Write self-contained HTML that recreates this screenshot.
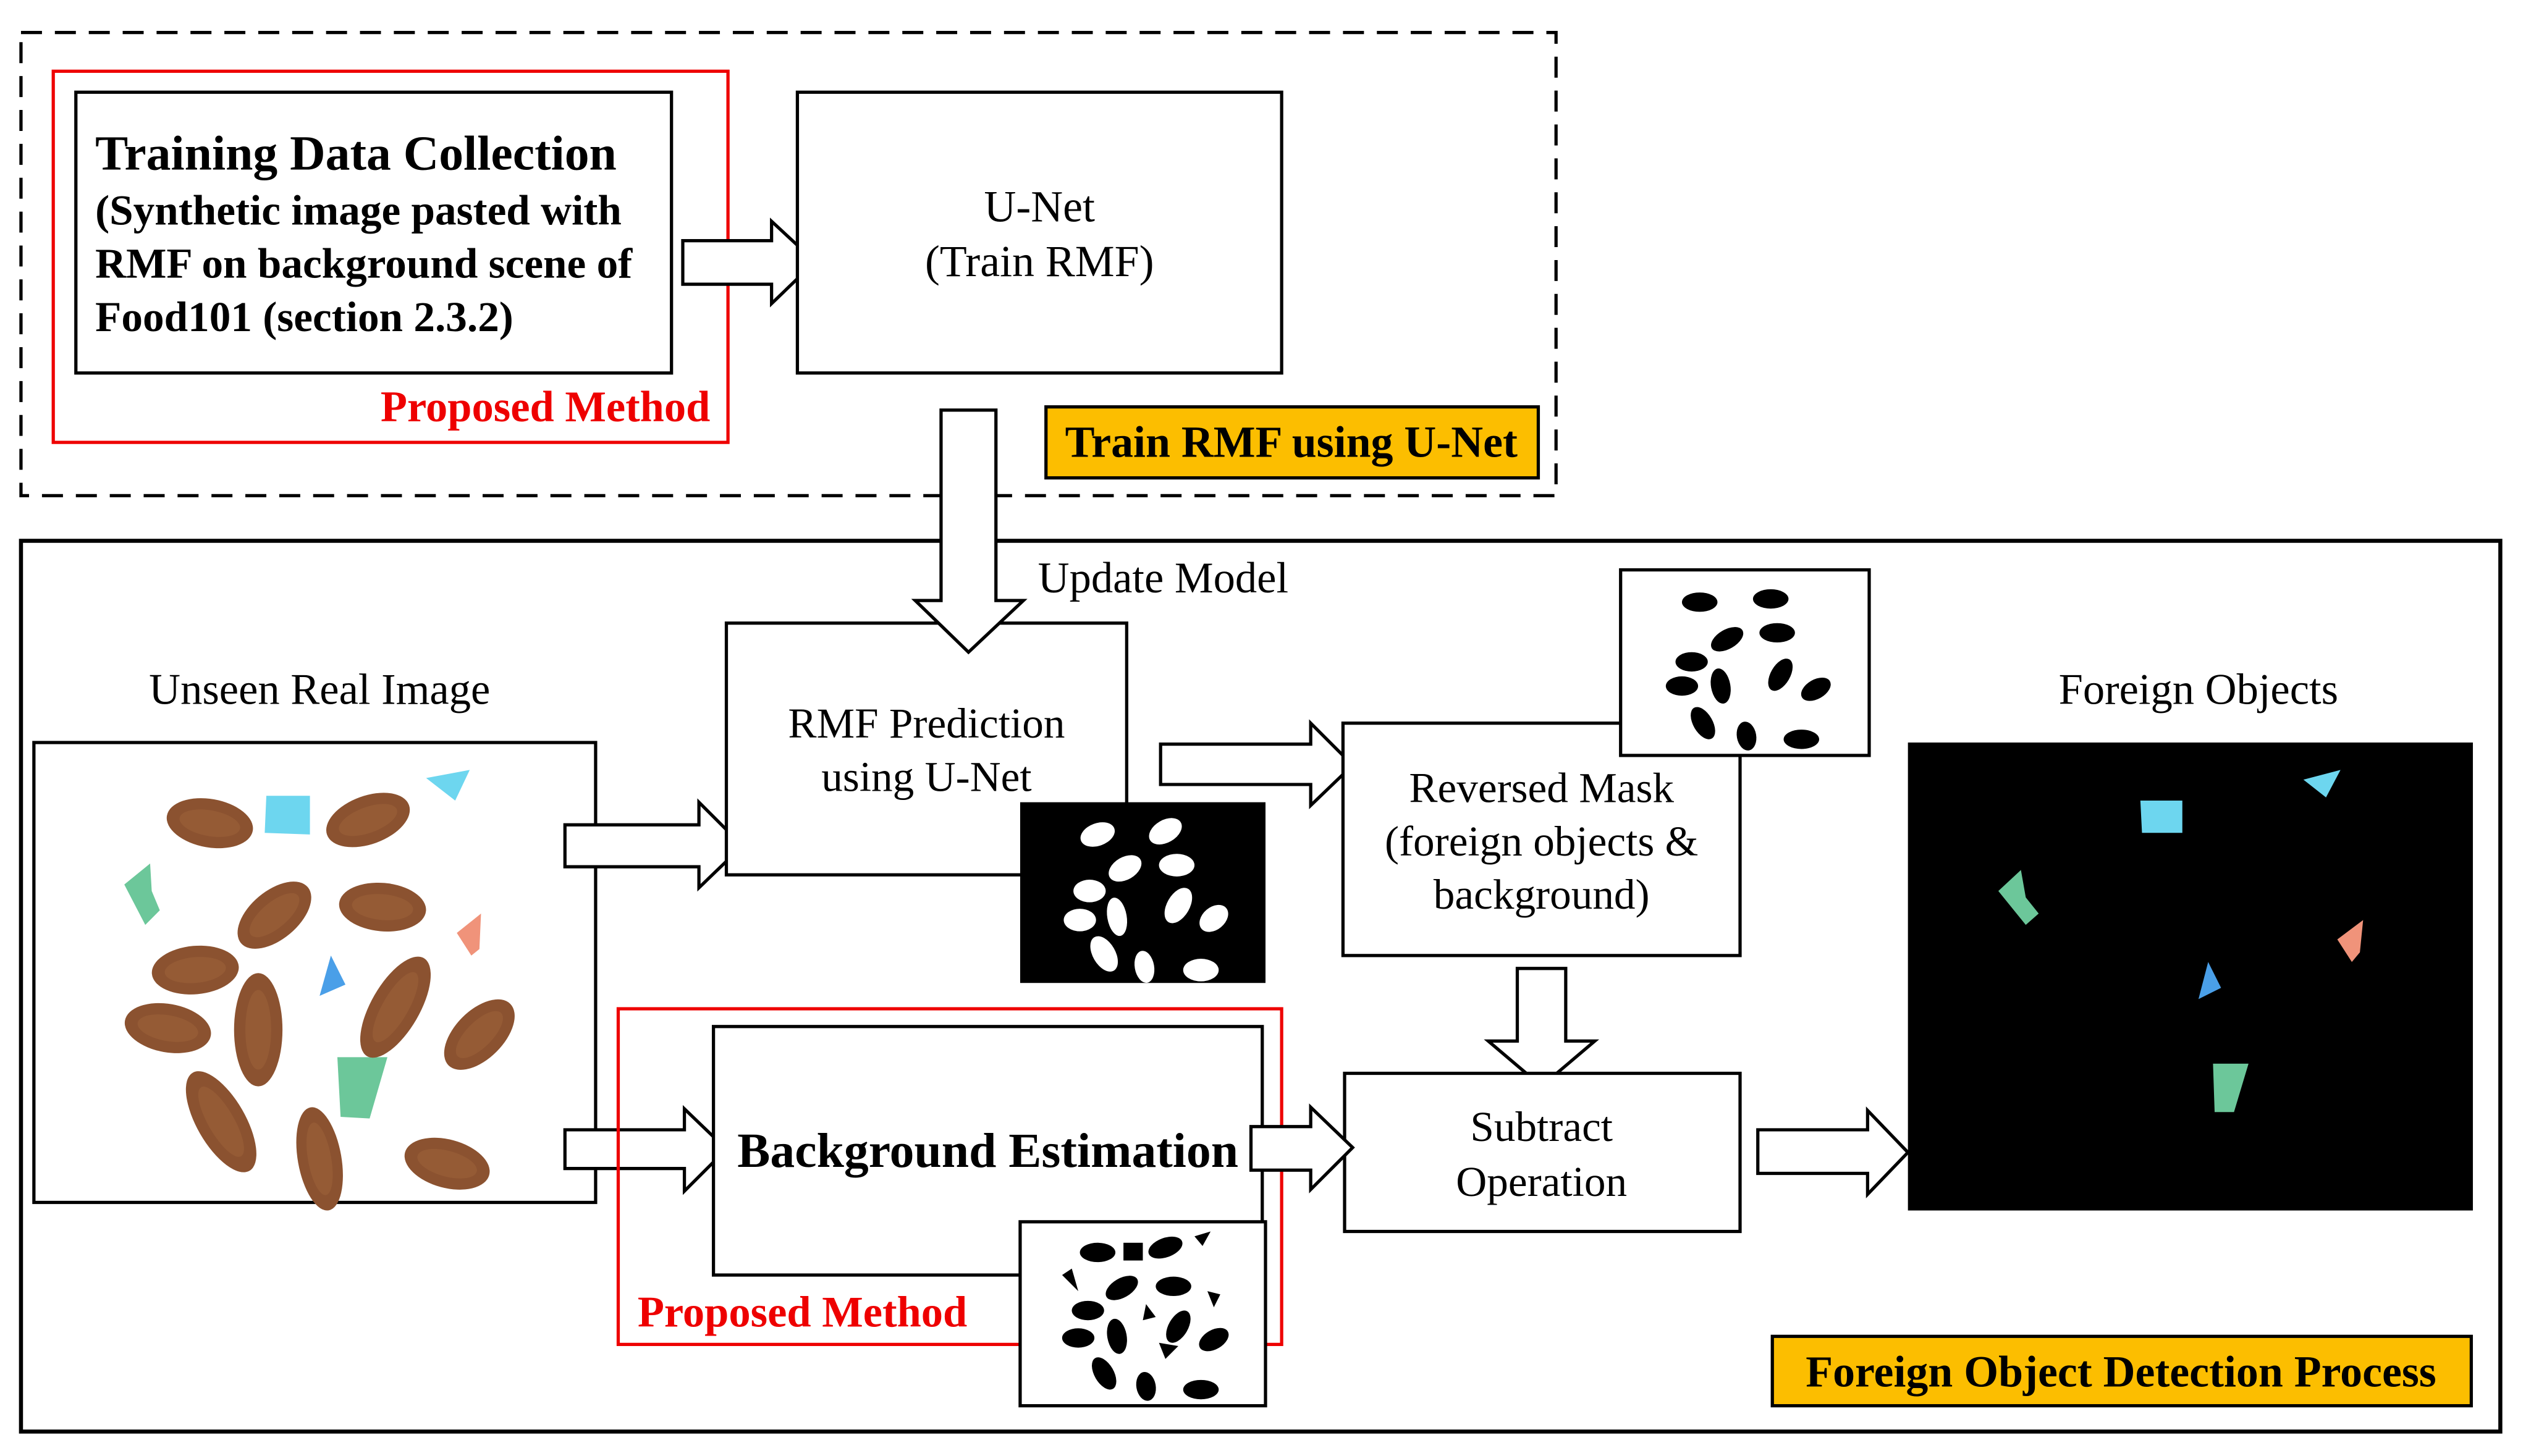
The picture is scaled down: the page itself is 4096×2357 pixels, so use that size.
<!DOCTYPE html>
<html><head><meta charset="utf-8"><style>
html,body{margin:0;padding:0;background:#fff;}
svg{display:block;}
svg text{font-family:"Liberation Serif","Times New Roman","DejaVu Serif",serif;fill:#000;}
</style></head><body>
<svg width="4096" height="2357" viewBox="0 0 1568 902" xmlns="http://www.w3.org/2000/svg" font-family="Liberation Serif, serif">
<defs>
<g id="alm"><ellipse rx="27" ry="15" fill="#8b5230"/><ellipse rx="19" ry="8" fill="#a0643a" opacity="0.5"/></g>
</defs>
<rect x="0" y="0" width="1568" height="902" fill="#fff"/>
<rect x="13" y="20" width="951" height="287" fill="none" stroke="#000" stroke-width="2" stroke-dasharray="13,8"/>
<rect x="33" y="44" width="418" height="230" fill="none" stroke="#e00" stroke-width="2"/>
<rect x="47" y="57" width="369" height="174" fill="#fff" stroke="#000" stroke-width="2"/>
<text x="59" y="105" font-size="30.5" font-weight="bold">Training Data Collection</text>
<text x="59" y="139" font-size="26.5" font-weight="bold">(Synthetic image pasted with</text>
<text x="59" y="172" font-size="26.5" font-weight="bold">RMF on background scene of</text>
<text x="59" y="205" font-size="26.5" font-weight="bold">Food101 (section 2.3.2)</text>
<text x="440" y="261" font-size="27" font-weight="bold" style="fill:#e00" text-anchor="end">Proposed Method</text>
<polygon points="423,149 478,149 478,137 505,162 478,188 478,176 423,176" fill="#fff" stroke="#000" stroke-width="2"/>
<rect x="494" y="57" width="300" height="174" fill="#fff" stroke="#000" stroke-width="2"/>
<text x="644" y="137" font-size="27.5" text-anchor="middle">U-Net</text>
<text x="644" y="171" font-size="27.5" text-anchor="middle">(Train RMF)</text>
<rect x="648" y="252" width="305" height="44" fill="#fcbe00" stroke="#000" stroke-width="2"/>
<text x="800" y="283" font-size="27.5" font-weight="bold" text-anchor="middle">Train RMF using U-Net</text>
<rect x="13" y="335" width="1536" height="552" fill="none" stroke="#000" stroke-width="2.5"/>
<text x="643" y="367" font-size="27">Update Model</text>
<text x="198" y="436" font-size="27" text-anchor="middle">Unseen Real Image</text>
<text x="1362" y="436" font-size="27" text-anchor="middle">Foreign Objects</text>
<rect x="21" y="460" width="348" height="285" fill="#fff" stroke="#000" stroke-width="2"/>
<polygon points="165,493 192,493 192,517 164,516" fill="#6dd6ef"/>
<polygon points="264,482 291,477 282,496" fill="#6dd6ef"/>
<polygon points="77,548 93,535 94,552 99,564 90,573" fill="#6cc79a"/>
<polygon points="283,578 298,566 297,588 292,592" fill="#f0937a"/>
<polygon points="205,592 214,610 198,617" fill="#4a9fe8"/>
<polygon points="209,655 240,655 229,693 211,692" fill="#6cc79a"/>
<use href="#alm" transform="translate(130,510) rotate(10)"/>
<use href="#alm" transform="translate(228,508) rotate(-20)"/>
<use href="#alm" transform="translate(170,567) rotate(-40)"/>
<use href="#alm" transform="translate(237,562) rotate(5)"/>
<use href="#alm" transform="translate(121,601) rotate(-5)"/>
<use href="#alm" transform="translate(104,637) rotate(10)"/>
<use href="#alm" transform="translate(160,638) rotate(90) scale(1.3,1)"/>
<use href="#alm" transform="translate(245,624) rotate(-60) scale(1.3,1)"/>
<use href="#alm" transform="translate(297,641) rotate(-45)"/>
<use href="#alm" transform="translate(137,695) rotate(60) scale(1.3,1)"/>
<use href="#alm" transform="translate(198,718) rotate(80) scale(1.2,0.9)"/>
<use href="#alm" transform="translate(277,721) rotate(15)"/>
<polygon points="350,511 433,511 433,497 460,524 433,550 433,537 350,537" fill="#fff" stroke="#000" stroke-width="2"/>
<polygon points="350,700 424,700 424,687 450,712 424,738 424,724 350,724" fill="#fff" stroke="#000" stroke-width="2"/>
<rect x="450" y="386" width="248" height="156" fill="#fff" stroke="#000" stroke-width="2"/>
<text x="574" y="457" font-size="26.5" text-anchor="middle">RMF Prediction</text>
<text x="574" y="490" font-size="26.5" text-anchor="middle">using U-Net</text>
<polygon points="583,254 617,254 617,372 634,372 600,404 567,372 583,372" fill="#fff" stroke="#000" stroke-width="2"/>
<rect x="632" y="497" width="152" height="112" fill="#000"/>
<g fill="#fff">
<ellipse cx="680" cy="517" rx="11" ry="7" transform="rotate(-20 680 517)"/>
<ellipse cx="722" cy="515" rx="11" ry="7" transform="rotate(-30 722 515)"/>
<ellipse cx="697" cy="538" rx="11" ry="7" transform="rotate(-30 697 538)"/>
<ellipse cx="729" cy="536" rx="11" ry="7"/>
<ellipse cx="675" cy="552" rx="10" ry="7"/>
<ellipse cx="669" cy="570" rx="10" ry="7"/>
<ellipse cx="692" cy="568" rx="12" ry="6" transform="rotate(80 692 568)"/>
<ellipse cx="730" cy="561" rx="12" ry="7" transform="rotate(-60 730 561)"/>
<ellipse cx="752" cy="569" rx="10" ry="7" transform="rotate(-40 752 569)"/>
<ellipse cx="684" cy="591" rx="12" ry="7" transform="rotate(60 684 591)"/>
<ellipse cx="709" cy="599" rx="10" ry="6" transform="rotate(80 709 599)"/>
<ellipse cx="744" cy="601" rx="11" ry="7"/>
</g>
<polygon points="719,461 812,461 812,448 838,474 812,499 812,486 719,486" fill="#fff" stroke="#000" stroke-width="2"/>
<rect x="832" y="448" width="246" height="144" fill="#fff" stroke="#000" stroke-width="2"/>
<text x="955" y="497" font-size="26.5" text-anchor="middle">Reversed Mask</text>
<text x="955" y="530" font-size="26.5" text-anchor="middle">(foreign objects &amp;</text>
<text x="955" y="563" font-size="26.5" text-anchor="middle">background)</text>
<rect x="1004" y="353" width="154" height="115" fill="#fff" stroke="#000" stroke-width="2"/>
<g fill="#000">
<ellipse cx="1053" cy="373" rx="11" ry="6"/>
<ellipse cx="1097" cy="371" rx="11" ry="6"/>
<ellipse cx="1070" cy="396" rx="11" ry="6" transform="rotate(-30 1070 396)"/>
<ellipse cx="1101" cy="392" rx="11" ry="6"/>
<ellipse cx="1048" cy="410" rx="10" ry="6"/>
<ellipse cx="1042" cy="425" rx="10" ry="6"/>
<ellipse cx="1066" cy="425" rx="11" ry="6" transform="rotate(80 1066 425)"/>
<ellipse cx="1103" cy="418" rx="11" ry="6" transform="rotate(-60 1103 418)"/>
<ellipse cx="1125" cy="427" rx="10" ry="6" transform="rotate(-30 1125 427)"/>
<ellipse cx="1055" cy="448" rx="11" ry="6" transform="rotate(60 1055 448)"/>
<ellipse cx="1082" cy="456" rx="9" ry="6" transform="rotate(80 1082 456)"/>
<ellipse cx="1116" cy="458" rx="11" ry="6"/>
</g>
<polygon points="940,600 970,600 970,645 988,645 955,673 922,645 940,645" fill="#fff" stroke="#000" stroke-width="2"/>
<rect x="833" y="665" width="245" height="98" fill="#fff" stroke="#000" stroke-width="2"/>
<text x="955" y="707" font-size="26.5" text-anchor="middle">Subtract</text>
<text x="955" y="741" font-size="26.5" text-anchor="middle">Operation</text>
<polygon points="1089,700 1157,700 1157,688 1182,714 1157,740 1157,727 1089,727" fill="#fff" stroke="#000" stroke-width="2"/>
<rect x="1182" y="460" width="350" height="290" fill="#000"/>
<polygon points="1427,483 1450,477 1441,494" fill="#6dd6ef"/>
<polygon points="1326,496 1352,496 1352,516 1327,516" fill="#6dd6ef"/>
<polygon points="1238,552 1252,539 1255,556 1263,566 1255,573" fill="#6cc79a"/>
<polygon points="1448,582 1464,570 1462,590 1457,596" fill="#f0937a"/>
<polygon points="1368,596 1376,612 1362,619" fill="#4a9fe8"/>
<polygon points="1371,659 1393,659 1384,689 1372,689" fill="#6cc79a"/>
<rect x="383" y="625" width="411" height="208" fill="none" stroke="#e00" stroke-width="2"/>
<rect x="442" y="636" width="340" height="154" fill="#fff" stroke="#000" stroke-width="2"/>
<text x="612" y="723" font-size="30.5" font-weight="bold" text-anchor="middle">Background Estimation</text>
<polygon points="775,698 812,698 812,686 838,711 812,737 812,725 775,725" fill="#fff" stroke="#000" stroke-width="2"/>
<text x="395" y="822" font-size="27" font-weight="bold" style="fill:#e00">Proposed Method</text>
<rect x="632" y="757" width="152" height="114" fill="#fff" stroke="#000" stroke-width="2"/>
<g fill="#000">
<ellipse cx="680" cy="776" rx="11" ry="6"/>
<rect x="696" y="770" width="12" height="11"/>
<ellipse cx="722" cy="773" rx="11" ry="6" transform="rotate(-20 722 773)"/>
<polygon points="740,766 750,763 745,772"/>
<polygon points="658,790 664,786 668,800"/>
<ellipse cx="695" cy="798" rx="11" ry="6" transform="rotate(-30 695 798)"/>
<ellipse cx="727" cy="797" rx="11" ry="6"/>
<polygon points="748,800 756,802 752,810"/>
<ellipse cx="674" cy="812" rx="10" ry="6"/>
<ellipse cx="668" cy="829" rx="10" ry="6"/>
<ellipse cx="692" cy="828" rx="11" ry="6" transform="rotate(80 692 828)"/>
<polygon points="710,808 716,816 708,818"/>
<ellipse cx="730" cy="822" rx="11" ry="6" transform="rotate(-60 730 822)"/>
<ellipse cx="752" cy="830" rx="10" ry="6" transform="rotate(-30 752 830)"/>
<polygon points="718,832 730,834 722,842"/>
<ellipse cx="684" cy="851" rx="11" ry="6" transform="rotate(60 684 851)"/>
<ellipse cx="710" cy="859" rx="9" ry="6" transform="rotate(80 710 859)"/>
<ellipse cx="744" cy="861" rx="11" ry="6"/>
</g>
<rect x="1098" y="828" width="433" height="43" fill="#fcbe00" stroke="#000" stroke-width="2"/>
<text x="1314" y="859" font-size="27.5" font-weight="bold" text-anchor="middle">Foreign Object Detection Process</text>
</svg>
</body></html>
